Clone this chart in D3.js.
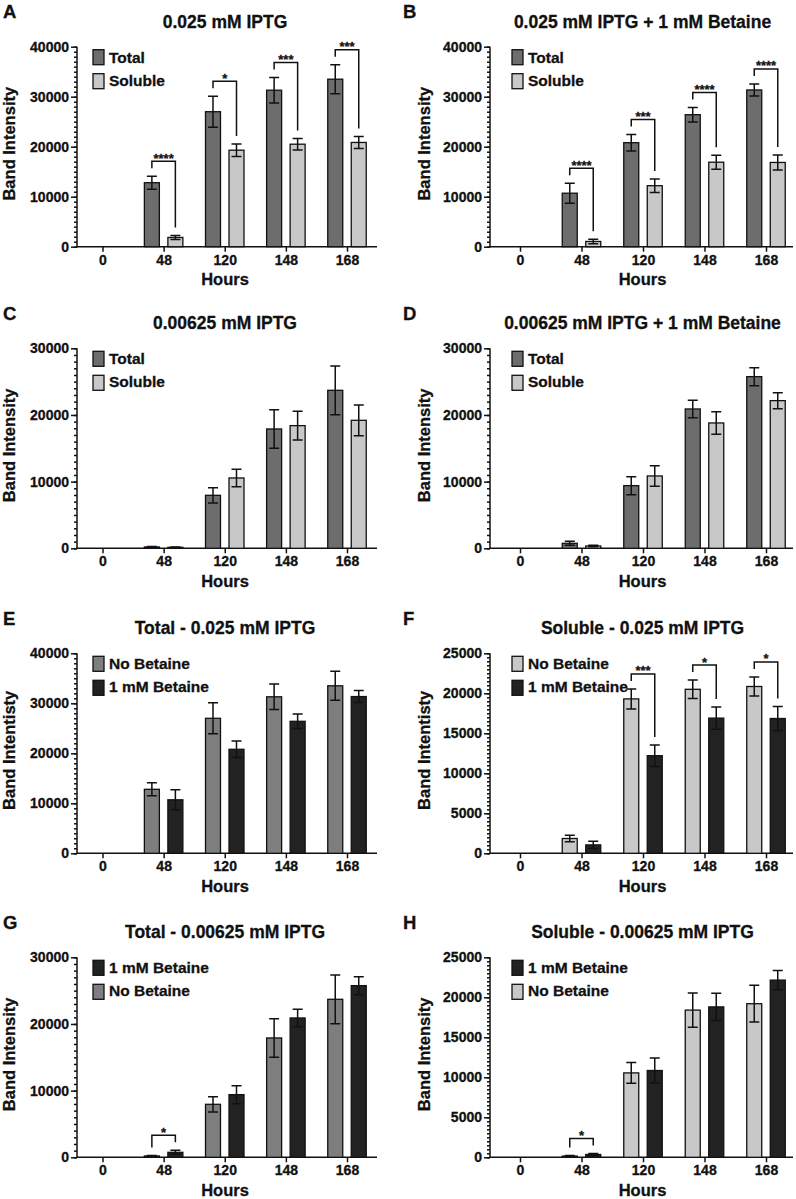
<!DOCTYPE html>
<html>
<head>
<meta charset="utf-8">
<script src="https://cdn.jsdelivr.net/npm/d3@7"></script>
<style>
body { margin:0; background:#fff; }
svg text { font-family:"Liberation Sans", Arial, Helvetica, sans-serif; font-weight:bold; fill:#111; stroke:#111; stroke-width:0.3px; }
.axis path, .axis line { stroke:#111; stroke-width:1.5; }
.axis text { font-size:14px; }
</style>
</head>
<body>
<div id="chart"></div>
<script>
var hours = ["0", "48", "120", "148", "168"];

// 0.025 mM IPTG
var tot025 = [0, 12800, 27000, 31300, 33500];
var tot025Err = [0, 1300, 3100, 2550, 2900];
var sol025 = [0, 1850, 19300, 20500, 20850];
var sol025Err = [0, 400, 1250, 1150, 1200];

// 0.025 mM IPTG + 1 mM Betaine
var tot025Bet = [0, 10700, 20800, 26400, 31350];
var tot025BetErr = [0, 2000, 1650, 1450, 1200];
var sol025Bet = [0, 1050, 12200, 16900, 16850];
var sol025BetErr = [0, 450, 1350, 1400, 1500];

// 0.00625 mM IPTG
var tot00625 = [0, 200, 7950, 17900, 23700];
var tot00625Err = [0, 80, 1150, 2900, 3650];
var sol00625 = [0, 150, 10550, 18400, 19200];
var sol00625Err = [0, 60, 1300, 2150, 2300];

// 0.00625 mM IPTG + 1 mM Betaine
var tot00625Bet = [0, 750, 9400, 20900, 25750];
var tot00625BetErr = [0, 300, 1350, 1300, 1350];
var sol00625Bet = [0, 350, 10850, 18800, 22150];
var sol00625BetErr = [0, 120, 1550, 1700, 1200];

// significance stars per time point
var starsA = ["", "****", "*", "***", "***"];
var starsB = ["", "****", "***", "****", "****"];
var starsF = ["", "", "***", "*", "*"];
var starsGH = ["", "*", "", "", ""];

var cTotal = "#6d6d6d", cSol = "#c8c8c8", cNoBet = "#7e7e7e", cBet = "#222222";

var panels = [
  {letter:"A", title:"0.025 mM IPTG", ylab:"Band Intensity", ymax:40000, major:10000, row:0, col:0,
   series:[{name:"Total", v:tot025, e:tot025Err, c:cTotal}, {name:"Soluble", v:sol025, e:sol025Err, c:cSol}],
   legend:[0,1], stars:starsA},
  {letter:"B", title:"0.025 mM IPTG + 1 mM Betaine", ylab:"Band Intensity", ymax:40000, major:10000, row:0, col:1,
   series:[{name:"Total", v:tot025Bet, e:tot025BetErr, c:cTotal}, {name:"Soluble", v:sol025Bet, e:sol025BetErr, c:cSol}],
   legend:[0,1], stars:starsB},
  {letter:"C", title:"0.00625 mM IPTG", ylab:"Band Intensity", ymax:30000, major:10000, row:1, col:0,
   series:[{name:"Total", v:tot00625, e:tot00625Err, c:cTotal}, {name:"Soluble", v:sol00625, e:sol00625Err, c:cSol}],
   legend:[0,1], stars:null},
  {letter:"D", title:"0.00625 mM IPTG + 1 mM Betaine", ylab:"Band Intensity", ymax:30000, major:10000, row:1, col:1,
   series:[{name:"Total", v:tot00625Bet, e:tot00625BetErr, c:cTotal}, {name:"Soluble", v:sol00625Bet, e:sol00625BetErr, c:cSol}],
   legend:[0,1], stars:null},
  {letter:"E", title:"Total - 0.025 mM IPTG", ylab:"Band Intentisty", ymax:40000, major:10000, row:2, col:0,
   series:[{name:"No Betaine", v:tot025, e:tot025Err, c:cNoBet}, {name:"1 mM Betaine", v:tot025Bet, e:tot025BetErr, c:cBet}],
   legend:[0,1], stars:null},
  {letter:"F", title:"Soluble - 0.025 mM IPTG", ylab:"Band Intentisty", ymax:25000, major:5000, row:2, col:1,
   series:[{name:"No Betaine", v:sol025, e:sol025Err, c:cSol}, {name:"1 mM Betaine", v:sol025Bet, e:sol025BetErr, c:cBet}],
   legend:[0,1], stars:starsF},
  {letter:"G", title:"Total - 0.00625 mM IPTG", ylab:"Band Intensity", ymax:30000, major:10000, row:3, col:0,
   series:[{name:"No Betaine", v:tot00625, e:tot00625Err, c:cNoBet}, {name:"1 mM Betaine", v:tot00625Bet, e:tot00625BetErr, c:cBet}],
   legend:[1,0], stars:starsGH},
  {letter:"H", title:"Soluble - 0.00625 mM IPTG", ylab:"Band Intensity", ymax:25000, major:5000, row:3, col:1,
   series:[{name:"No Betaine", v:sol00625, e:sol00625Err, c:cSol}, {name:"1 mM Betaine", v:sol00625Bet, e:sol00625BetErr, c:cBet}],
   legend:[1,0], stars:starsGH}
];

var rowTop = [46.7, 348.3, 653.3, 957.3];
var plotH = 200;
var colAxisX = [77, 490], colAxisEnd = [377, 793];
var colRange = [[102.5, 347], [520, 766]];
var colMid = [225, 642.5];
var barW = 15, barOff = 11.75, capW = 10;

var svg = d3.select("#chart").append("svg")
    .attr("width", 796)
    .attr("height", 1199);

panels.forEach(function(p){
  var g = svg.append("g");
  var ax = colAxisX[p.col];
  var top = rowTop[p.row], zero = top + plotH;

  var x = d3.scalePoint().domain(hours).range(colRange[p.col]);
  var y = d3.scaleLinear().domain([0, p.ymax]).range([zero, top]);

  // panel letter + title
  g.append("text").attr("x", p.col ? 403 : 3).attr("y", top - 28.5)
    .style("font-size", "18.5px").text(p.letter);
  g.append("text").attr("x", colMid[p.col]).attr("y", top - 19)
    .attr("text-anchor", "middle").style("font-size", "17.5px").text(p.title);

  // y axis: minor then major
  g.append("g").attr("class", "axis").attr("transform", "translate(" + ax + ",0)")
    .call(d3.axisLeft(y).tickValues(d3.range(0, p.ymax + 1, p.major / 10)).tickSize(3).tickFormat(""))
    .select(".domain").remove();
  var yAxis = g.append("g").attr("class", "axis").attr("transform", "translate(" + ax + ",0)")
    .call(d3.axisLeft(y).tickValues(d3.range(0, p.ymax + 1, p.major)).tickSize(6).tickPadding(2).tickFormat(d3.format("d")));
  yAxis.select(".domain").attr("d", "M0," + (zero + 0.75) + "V" + top);
  yAxis.selectAll("text").attr("fill", "#111");

  // x axis
  var xAxis = g.append("g").attr("class", "axis").attr("transform", "translate(0," + zero + ")")
    .call(d3.axisBottom(x).tickSize(5).tickPadding(3));
  xAxis.select(".domain").attr("d", "M" + (ax - 0.75) + ",0H" + colAxisEnd[p.col]);
  xAxis.selectAll("text").attr("fill", "#111");

  g.append("text").attr("x", colMid[p.col]).attr("y", zero + 38.5)
    .attr("text-anchor", "middle").style("font-size", "16.5px").text("Hours");
  g.append("text").attr("transform", "translate(" + (p.col ? 430 : 15) + "," + (top + plotH / 2 - 3) + ") rotate(-90)")
    .attr("text-anchor", "middle").style("font-size", "16.5px").text(p.ylab);

  // bars + error bars
  p.series.forEach(function(s, si){
    var off = si === 0 ? -barOff : barOff;
    var pts = hours.map(function(h, i){ return {h:h, v:s.v[i], e:s.e[i]}; })
      .filter(function(d){ return d.v > 0; });
    var sg = g.append("g");
    sg.selectAll("rect").data(pts).enter().append("rect")
      .attr("x", function(d){ return x(d.h) + off - barW / 2; })
      .attr("y", function(d){ return y(d.v); })
      .attr("width", barW)
      .attr("height", function(d){ return zero - y(d.v); })
      .attr("fill", s.c).attr("stroke", "#111").attr("stroke-width", 1.3);
    var eb = sg.selectAll("g.err").data(pts).enter().append("g").attr("class", "err")
      .attr("stroke", "#111").attr("stroke-width", 1.5);
    eb.append("path").attr("fill", "none").attr("d", function(d){
      var cx = x(d.h) + off;
      var y1 = y(d.v + d.e), y0 = y(Math.max(0, d.v - d.e));
      return "M" + (cx - capW / 2) + "," + y1 + "H" + (cx + capW / 2) +
             "M" + cx + "," + y1 + "V" + y0 +
             "M" + (cx - capW / 2) + "," + y0 + "H" + (cx + capW / 2);
    });
  });

  // significance brackets
  if (p.stars) {
    p.stars.forEach(function(st, i){
      if (!st) return;
      var h = hours[i];
      var a = p.series[0], b = p.series[1];
      var x0 = x(h) - barOff, x1 = x(h) + barOff;
      var t0 = y(a.v[i] + a.e[i]), t1 = y(b.v[i] + b.e[i]);
      var by = Math.min(t0, t1) - 15;
      g.append("path").attr("fill", "none").attr("stroke", "#111").attr("stroke-width", 1.5)
        .attr("d", "M" + x0 + "," + (t0 - 8) + "V" + by + "H" + x1 + "V" + (t1 - 8));
      g.append("text").attr("x", (x0 + x1) / 2).attr("y", by + 1.5)
        .attr("text-anchor", "middle").style("font-size", "13px").text(st);
    });
  }

  // legend
  var lx = p.col ? 512 : 93;
  p.legend.forEach(function(si, k){
    var s = p.series[si];
    g.append("rect").attr("x", lx).attr("y", top + 3 + k * 24).attr("width", 11).attr("height", 15)
      .attr("fill", s.c).attr("stroke", "#111").attr("stroke-width", 1.3);
    g.append("text").attr("x", lx + 16).attr("y", top + 16 + k * 23)
      .style("font-size", "15.5px").text(s.name);
  });
});
</script>
</body>
</html>
